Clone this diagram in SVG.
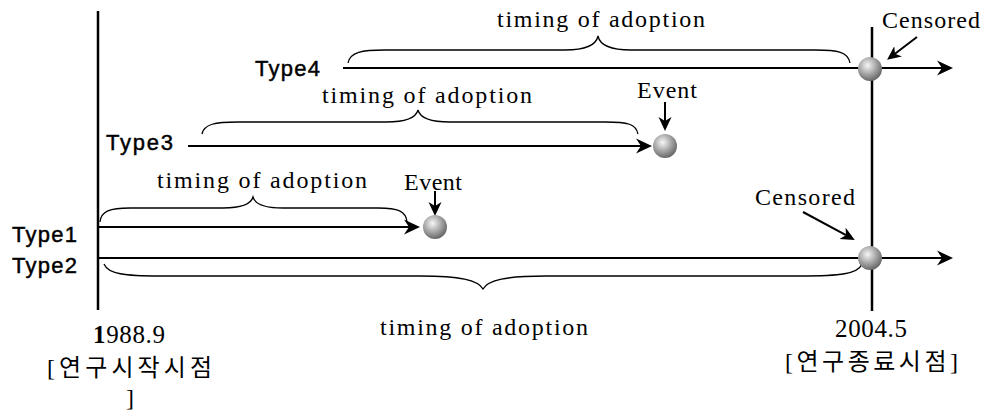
<svg xmlns="http://www.w3.org/2000/svg" width="985" height="411" viewBox="0 0 985 411">
<style>
.lbl{font-family:"Liberation Sans",Arial,sans-serif;font-size:22px;fill:#000;stroke:#000;stroke-width:0.45}
.ser{font-family:"Liberation Serif","Noto Sans CJK KR",serif;font-size:24px;fill:#000}
.num{font-family:"Liberation Serif",serif;font-size:25px;fill:#000}
.kr{font-family:"Liberation Serif","Noto Sans CJK KR",serif;font-size:24px;fill:#000}
.ln{stroke:#000;stroke-width:2;fill:none}
.brace{stroke:#000;stroke-width:1.3;fill:none}
.axis{stroke:#000;stroke-width:2.5}
</style>
<defs>
<marker id="ah" viewBox="0 0 16 16" markerWidth="16" markerHeight="16" refX="5" refY="8" orient="auto" markerUnits="userSpaceOnUse">
<path d="M0,0.5 L16,8 L0,15.5 L5,8 Z" fill="#000"/>
</marker>
<marker id="ahs" viewBox="0 0 14 14" markerWidth="14" markerHeight="14" refX="4" refY="7" orient="auto" markerUnits="userSpaceOnUse">
<path d="M0,0.5 L14,7 L0,13.5 L4,7 Z" fill="#000"/>
</marker>
<radialGradient id="ball" cx="0.4" cy="0.35" r="0.7">
<stop offset="0" stop-color="#f6f6f6"/>
<stop offset="0.5" stop-color="#a9a9a9"/>
<stop offset="1" stop-color="#5e5e5e"/>
</radialGradient>
</defs>
<rect width="985" height="411" fill="#fff"/>

<g id="axes">
<line class="axis" x1="98" y1="11" x2="98" y2="310"/>
<line class="axis" x1="872" y1="27" x2="872" y2="311"/>
</g>

<g id="connectors">
<line class="ln" x1="343" y1="68" x2="942" y2="68" marker-end="url(#ah)"/>
<line class="ln" x1="188" y1="146" x2="641" y2="146" marker-end="url(#ah)"/>
<line class="ln" x1="98" y1="227" x2="409" y2="227" marker-end="url(#ah)"/>
<line class="ln" x1="98" y1="258" x2="942" y2="258" stroke-width="3" marker-end="url(#ah)"/>
<line class="ln" x1="665" y1="102" x2="665" y2="121" stroke-width="2.4" marker-end="url(#ahs)"/>
<line class="ln" x1="435" y1="191" x2="435" y2="206" stroke-width="2.4" marker-end="url(#ahs)"/>
<line class="ln" x1="917" y1="37" x2="895" y2="53.8" stroke-width="2.4" marker-end="url(#ahs)"/>
<line class="ln" x1="803" y1="212" x2="846" y2="235.2" stroke-width="2.4" marker-end="url(#ahs)"/>
</g>

<g id="braces">
<path class="brace" d="M348,63 C350,52 362,50 385,50 L565,50 C585,50 596,46 598,36 C600,46 611,50 631,50 L815,50 C838,50 848,52 850,63"/>
<path class="brace" d="M202,134 C204,124 215,122 238,122 L386,122 C406,122 416,118 418,110 C420,118 430,122 450,122 L605,122 C628,122 636,124 638,134"/>
<path class="brace" d="M100,222 C101,211 110,208 130,208 L223,208 C243,208 251,204 253,197 C255,204 263,208 283,208 L378,208 C398,208 406,211 407,222"/>
<path class="brace" d="M104,264 C108,274 125,276 160,276 L420,276 C460,276 478,280 483,289 C488,280 506,276 546,276 L800,276 C840,276 858,274 862,264"/>
</g>

<g id="type4">
<text class="lbl" x="255" y="76" textLength="65" lengthAdjust="spacing">Type4</text>
<text class="ser" x="497" y="27" textLength="208" lengthAdjust="spacing">timing of adoption</text>
<circle cx="870" cy="69" r="12" fill="url(#ball)"/>
<text class="ser" x="882" y="28" textLength="98" lengthAdjust="spacing">Censored</text>
</g>

<g id="type3">
<text class="lbl" x="106" y="150" textLength="67" lengthAdjust="spacing">Type3</text>
<text class="ser" x="322" y="103" textLength="210" lengthAdjust="spacing">timing of adoption</text>
<circle cx="665" cy="146" r="12" fill="url(#ball)"/>
<text class="ser" x="637" y="98" textLength="60" lengthAdjust="spacing">Event</text>
</g>

<g id="type1">
<text class="lbl" x="12" y="242" textLength="65" lengthAdjust="spacing">Type1</text>
<text class="ser" x="157" y="188" textLength="210" lengthAdjust="spacing">timing of adoption</text>
<circle cx="435" cy="227" r="12" fill="url(#ball)"/>
<text class="ser" x="404" y="190" textLength="58" lengthAdjust="spacing">Event</text>
</g>

<g id="type2">
<text class="lbl" x="12" y="273" textLength="65" lengthAdjust="spacing">Type2</text>
<text class="ser" x="380" y="335" textLength="208" lengthAdjust="spacing">timing of adoption</text>
<circle cx="870" cy="258" r="12" fill="url(#ball)"/>
<text class="ser" x="755" y="205" textLength="100" lengthAdjust="spacing">Censored</text>
</g>

<g id="start">
<text class="num" x="93" y="343" textLength="72" lengthAdjust="spacing"><tspan font-weight="bold">1</tspan>988.9</text>
<text class="kr" x="47" y="376" textLength="165" lengthAdjust="spacing">[연구시작시점</text>
<text class="kr" x="126" y="406">]</text>
</g>

<g id="end">
<text class="num" x="835" y="337" textLength="72" lengthAdjust="spacing">2004.5</text>
<text class="kr" x="785" y="370" textLength="173" lengthAdjust="spacing">[연구종료시점]</text>
</g>
</svg>
